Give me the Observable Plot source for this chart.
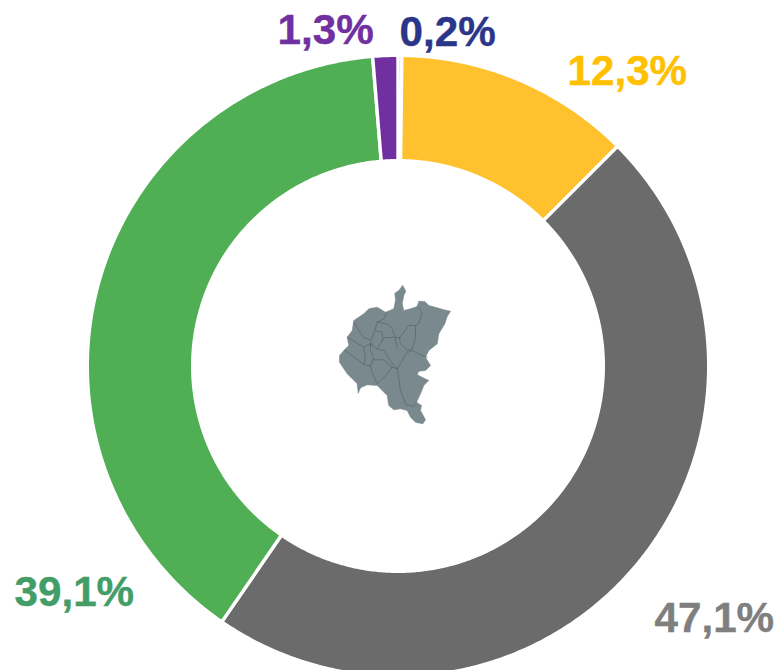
<!DOCTYPE html>
<html>
<head>
<meta charset="utf-8">
<script src="https://cdn.jsdelivr.net/npm/d3@7"></script>
<script src="https://cdn.jsdelivr.net/npm/@observablehq/plot@0.6"></script>
<style>
html,body{margin:0;padding:0;background:#fff;overflow:hidden}
svg{display:block}
</style>
</head>
<body>
<div id="chart"></div>
<script>
// Data
const categories = ["Azul", "Amarillo", "Gris", "Verde", "Morado"];
const shares = [0.2, 12.3, 47.1, 39.1, 1.3];
const labels = ["0,2%", "12,3%", "47,1%", "39,1%", "1,3%"];

// Styles
const sliceColors = ["#2A3586", "#FFC12D", "#6B6B6B", "#50AE54", "#7030A0"];
const labelColors = ["#2B3589", "#FFC000", "#7F7F7F", "#429D67", "#7030A0"];

// Label placement, in plot units relative to the ring centre
const labelX = [1, 169, 256, -384, -121];
const labelY = [321, 282, -265, -239, 323];

// Map shape
const mapOutline = [[402.3,285],[405.3,290.7],[403.3,295],[401.7,303.3],[403.3,310],[410,308.3],[416.7,306],[418.3,300.7],[424.3,301],[428.3,305],[436.7,307.3],[443.3,309.3],[450,310.7],[446.7,316],[444.3,323.3],[438.3,333.3],[436.7,343.3],[428.3,350],[425,356.7],[430,365],[425,370],[418.3,370.7],[416.7,374],[420,376],[428.3,380],[423.3,385],[420,393.3],[416,401.7],[421,405],[420,410],[425,419.3],[422.3,423.3],[415,421.7],[410,416.7],[406.7,410],[400,408.3],[393.3,409.3],[388.3,405],[386.7,395],[380,388.3],[376.7,385],[366.7,384.3],[360,387.3],[357.7,392.7],[356.7,383.3],[351.7,378.3],[346.7,373.3],[339,361.7],[339,355],[343.3,350],[348.3,345],[346.7,336.7],[351.7,330],[353.3,320],[363.3,313.3],[368.3,308.3],[376.7,306.7],[385,311.7],[393.3,308.3],[395,300],[394.3,292.7],[398.3,290]];
const mapBorders = [
  [[353.3,321.7],[358.3,330],[363.3,337.3],[370,339.3],[371.7,345]],
  [[376.7,321.7],[386.7,323.3],[391.7,328.3],[394.3,335],[396.7,348.3]],
  [[376.7,321.7],[374.3,330],[371,338.3]],
  [[374.3,330],[381.7,331.7],[382.3,340]],
  [[346.7,336.7],[355,341.7],[363.3,346.7],[365,356.7],[363.3,364]],
  [[363.3,346.7],[370,343.3],[376.7,348.3],[383.3,337.3],[393.3,336.7],[399,337.3]],
  [[399,337.3],[408.3,325],[415,325],[415,336.7],[411.7,348.3],[406.7,350],[400,343.3],[399,337.3]],
  [[416.7,306],[421.7,311.7],[418.3,323.3],[415,325]],
  [[376.7,321.7],[383.3,318.3],[386.7,311.7]],
  [[411.7,350],[421.7,355],[426.7,356.7]],
  [[344.3,350],[355,357.3],[363.3,364],[370,365.7]],
  [[370,365.7],[372.3,359.3],[383.3,359.3],[391.7,366.7],[385,375],[376.7,383.3],[371.7,371.7],[370,365.7]],
  [[376.7,348.3],[383.3,350],[393.3,365],[396.7,368.3],[406.7,351.7],[411.7,350]],
  [[396.7,368.3],[400,390],[405,404],[413.3,406],[416,401.7]],
  [[391.7,366.7],[396.7,368.3]],
  [[370,343.3],[370,350],[373.3,357.3],[372.3,359.3]]
];

// Build ring geometry from the shares
const R_OUT = 310.7, R_IN = 205.3, DEG = Math.PI / 180;
const total = d3.sum(shares);
let cum = 0;
const ringPoints = [];
categories.forEach((name, i) => {
  const a0 = cum / total * 360;
  cum += shares[i];
  const a1 = cum / total * 360;
  const steps = Math.max(2, Math.ceil(a1 - a0) * 2);
  for (let k = 0; k <= steps; k++) {
    const a = (a0 + (a1 - a0) * k / steps) * DEG;
    ringPoints.push({
      name, color: sliceColors[i],
      xo: R_OUT * Math.sin(a), yo: R_OUT * Math.cos(a),
      xi: R_IN * Math.sin(a), yi: R_IN * Math.cos(a)
    });
  }
});

const labelRows = labels.map((text, i) => ({text, x: labelX[i], y: labelY[i], color: labelColors[i]}));

// Map traced in picture pixels: convert to ring-centred plot units
const mapX = d => d[0] - 398;
const mapY = d => 366 - d[1];

const plot = Plot.plot({
  width: 780,
  height: 670,
  margin: 0,
  x: {domain: [-398, 382], range: [0, 780], axis: null},
  y: {domain: [366, -304], range: [0, 670], axis: null},
  color: {type: "identity"},
  marks: [
    Plot.area(ringPoints, {
      x1: "xo", y1: "yo", x2: "xi", y2: "yi",
      z: "name", fill: "color",
      stroke: "#fff", strokeWidth: 3.4, curve: "linear"
    }),
    Plot.line(mapOutline, {x: mapX, y: mapY, fill: "#7A898D", stroke: "#7A898D", strokeWidth: 0.6, curve: "linear-closed"}),
    ...mapBorders.map(b => Plot.line(b, {x: mapX, y: mapY, stroke: "#566468", strokeWidth: 0.7, curve: "linear"})),
    Plot.text(labelRows, {
      x: "x", y: "y", text: "text", fill: "color", stroke: "color", strokeWidth: 0.4,
      textAnchor: "start", lineAnchor: "bottom",
      fontFamily: "Liberation Sans, Arial, sans-serif",
      fontWeight: 700, fontSize: 42.2
    })
  ]
});
document.getElementById("chart").append(plot);
</script>
</body>
</html>
